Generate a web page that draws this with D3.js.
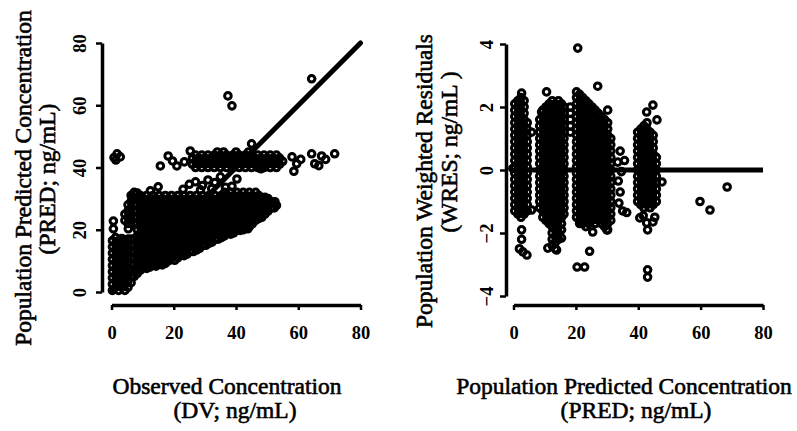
<!DOCTYPE html>
<html>
<head>
<meta charset="utf-8">
<script src="https://cdn.jsdelivr.net/npm/d3@7"></script>
<style>
  body { margin: 0; background: #fff; }
  svg { display: block; }
  text { font-family: "Liberation Serif", "Times New Roman", serif; fill: #000; }
</style>
</head>
<body>
<script>
// ---- left panel: observed (DV) vs population predicted (PRED) ----
const predTicks = [0, 20, 40, 60, 80];
const dvTicks = [0, 20, 40, 60, 80];

// dense cloud, one column per DV value: [DV, [PRED, ...]]
const predBlob = [
  [0.3, [0.5, 2.5, 4.5, 6.5, 8.5, 10.5, 12.5, 14.5, 16.5]],
  [1.3, [1.5, 3.5, 5.5, 7.5, 9.5, 11.5, 13.5, 15.5, 17.5]],
  [2.3, [0.5, 2.5, 4.5, 6.5, 8.5, 10.5, 12.5, 14.5, 16.5]],
  [3.3, [1.5, 3.5, 5.5, 7.5, 9.5, 11.5, 13.5, 15.5, 17.2]],
  [4.3, [0.5, 2.5, 4.5, 6.5, 8.5, 10.5, 12.5, 14.5, 16.5, 23, 25]],
  [5.3, [1.5, 3.5, 5.5, 7.5, 9.5, 11.5, 13.5, 15.5, 17, 22, 24, 26, 28]],
  [6.3, [3, 5, 7, 9, 11, 13, 15, 17, 23, 25, 27, 29, 31]],
  [7.3, [5, 7, 9, 11, 13, 15, 17, 22, 24, 26, 28, 30, 32]],
  [8.3, [6, 8, 10, 12, 14, 16, 18, 20, 22, 24, 26, 28, 30, 31.8]],
  [9.3, [7, 9, 11, 13, 15, 17, 19, 21, 23, 25, 27, 29, 31]],
  [10.3, [8, 10, 12, 14, 16, 18, 20, 22, 24, 26, 28, 30]],
  [11.3, [7.6, 9, 11, 13, 15, 17, 19, 21, 23, 25, 27, 29, 31]],
  [12.3, [8, 10, 12, 14, 16, 18, 20, 22, 24, 26, 28, 30]],
  [13.3, [9, 11, 13, 15, 17, 19, 21, 23, 25, 27, 29, 31]],
  [14.3, [8.3, 10, 12, 14, 16, 18, 20, 22, 24, 26, 28, 30]],
  [15.3, [9, 11, 13, 15, 17, 19, 21, 23, 25, 27, 29, 31]],
  [16.3, [8.7, 10, 12, 14, 16, 18, 20, 22, 24, 26, 28, 30]],
  [17.3, [9.2, 11, 13, 15, 17, 19, 21, 23, 25, 27, 29, 31]],
  [18.3, [10, 12, 14, 16, 18, 20, 22, 24, 26, 28, 30]],
  [19.3, [11, 13, 15, 17, 19, 21, 23, 25, 27, 29, 31]],
  [20.3, [10.2, 12, 14, 16, 18, 20, 22, 24, 26, 28, 30]],
  [21.3, [11, 13, 15, 17, 19, 21, 23, 25, 27, 29, 31]],
  [22.3, [12, 14, 16, 18, 20, 22, 24, 26, 28, 30]],
  [23.3, [11.7, 13, 15, 17, 19, 21, 23, 25, 27, 29, 31]],
  [24.3, [12.2, 14, 16, 18, 20, 22, 24, 26, 28, 30]],
  [25.3, [13, 15, 17, 19, 21, 23, 25, 27, 29, 31]],
  [26.3, [13, 14.6, 16, 18, 20, 22, 24, 26, 28, 30]],
  [27.3, [13.5, 15, 17, 19, 21, 23, 25, 27, 29, 31]],
  [28.3, [14, 16, 18, 20, 22, 24, 26, 28, 30]],
  [29.3, [15, 17, 19, 21, 23, 25, 27, 29, 31]],
  [30.3, [15, 16.4, 18, 20, 22, 24, 26, 28, 30]],
  [31.3, [15.6, 17, 19, 21, 23, 25, 27, 29, 31]],
  [32.3, [16, 18, 20, 22, 24, 26, 28, 30]],
  [33.3, [17, 19, 21, 23, 25, 27, 29, 31]],
  [34.3, [17, 18.4, 20, 22, 24, 26, 28, 30]],
  [35.3, [17.5, 19, 21, 23, 25, 27, 29, 31]],
  [36.3, [18, 20, 22, 24, 26, 28, 30, 32]],
  [37.3, [19, 21, 23, 25, 27, 29, 31]],
  [38.3, [18.6, 20, 22, 24, 26, 28, 30, 32]],
  [39.3, [19, 21, 23, 25, 27, 29, 31]],
  [40.3, [20, 22, 24, 26, 28, 30, 32]],
  [41.3, [19.8, 21, 23, 25, 27, 29, 31]],
  [42.3, [20, 22, 24, 26, 28, 30, 32]],
  [43.3, [21, 23, 25, 27, 29, 31]],
  [44.3, [21, 22.4, 24, 26, 28, 30, 32]],
  [45.3, [22, 23.4, 25, 27, 29, 31]],
  [46.3, [23, 24.4, 26, 28, 30, 32]],
  [47.3, [23.6, 25, 27, 29, 31]],
  [48.3, [24, 26, 28, 30]],
  [49.3, [25, 27, 29, 30.4]],
  [50.3, [26, 28, 30]],
  [51.3, [27, 29]],
  [52.3, [27, 28.8]],
  [53.0, [27.8]]
];

// the band of points near PRED = 42
const predBand = [
  [26.0, [41, 43]], [27.0, [40, 42, 44]], [28.0, [41, 43]], [29.0, [40, 42, 44]],
  [30.0, [41, 43]], [31.0, [40, 42, 44]], [32.0, [41, 43]], [33.0, [40, 42, 44]],
  [34.0, [41, 43, 45]], [35.0, [40, 42, 44]], [36.0, [41, 43, 45]], [37.0, [40, 42, 44]],
  [38.0, [41, 43]], [39.0, [40, 42, 44]], [40.0, [41, 43, 45]], [41.0, [40, 42, 44]],
  [42.0, [41, 43]], [43.0, [40, 42, 44]], [44.0, [41, 43, 45]], [45.0, [40, 42, 44]],
  [46.0, [41, 43]], [47.0, [40, 42, 44]], [48.0, [39.6, 41, 43]], [49.0, [40, 42, 44]],
  [50.0, [41, 43]], [51.0, [40, 42, 44]], [52.0, [41, 43]], [53.0, [40, 42, 44]],
  [54.0, [41, 43]], [55.0, [42]]
];

// single points [DV, PRED]
const predScatter = [
  [0.8, 43.2], [1.8, 44.4], [2.8, 43.4], [1.4, 42.4], [0.6, 22.8], [0.6, 20.3],
  [5.4, 20.3], [6.7, 30.2], [12.5, 32.5], [15.0, 33.8], [15.7, 40.5], [18.2, 43.7],
  [19.6, 42.1], [21.0, 40.5], [23.4, 41.8], [25.3, 45.3], [23.0, 33.0], [25.0, 34.6],
  [27.0, 35.4], [28.6, 32.8], [29.2, 34.2], [31.0, 36.0], [32.2, 33.2], [33.2, 35.2],
  [35.0, 37.0], [36.6, 33.6], [38.7, 34.0], [40.3, 36.3], [37.4, 63.0], [38.7, 59.8],
  [45.0, 47.6], [43.8, 20.3], [52.5, 29.0], [28.5, 17.7], [58.0, 43.4], [59.5, 41.2],
  [58.6, 38.8], [60.8, 42.6], [64.3, 44.4], [65.3, 41.2], [66.6, 40.6], [67.5, 43.7],
  [68.8, 42.6], [71.7, 44.4], [64.3, 68.5]
];

// ---- right panel: PRED vs weighted residuals (WRES) ----
const wresTicks = [-4, -2, 0, 2, 4];
const pred2Ticks = [0, 20, 40, 60, 80];

// dense stripes, one column per PRED value: [PRED, [WRES, ...]]
const wresCols = [
  [0.4, [2.1, 1.9, 1.7, 1.5, 1.3, 1.1, 0.9, 0.7, 0.5, 0.3, 0.1, -0.1, -0.3, -0.5, -0.7, -0.9, -1.1, -1.3]],
  [1.4, [2.2, 2.0, 1.8, 1.6, 1.4, 1.2, 1.0, 0.8, 0.6, 0.4, 0.2, 0.0, -0.2, -0.4, -0.6, -0.8, -1.0, -1.2, -1.4]],
  [2.4, [2.3, 2.1, 1.9, 1.7, 1.5, 1.3, 1.1, 0.9, 0.7, 0.5, 0.3, 0.1, -0.1, -0.3, -0.5, -0.7, -0.9, -1.1, -1.3, -1.5]],
  [3.4, [2.2, 2.0, 1.8, 1.6, 1.4, 1.2, 1.0, 0.8, 0.6, 0.4, 0.2, 0.0, -0.2, -0.4, -0.6, -0.8, -1.0, -1.2, -1.4]],
  [4.4, [1.5, 1.3, 1.1, 0.9, 0.7, 0.5, 0.3, 0.1, -0.1, -0.3, -0.5, -0.7, -0.9, -1.1, -1.3]],
  [8.4, [1.6, 1.4, 1.2, 1.0, 0.8, 0.6, 0.4, 0.2, 0.0, -0.2, -0.4, -0.6, -0.8, -1.0, -1.2]],
  [9.4, [1.9, 1.7, 1.5, 1.3, 1.1, 0.9, 0.7, 0.5, 0.3, 0.1, -0.1, -0.3, -0.5, -0.7, -0.9, -1.1, -1.3, -1.5]],
  [10.4, [2.0, 1.8, 1.6, 1.4, 1.2, 1.0, 0.8, 0.6, 0.4, 0.2, 0.0, -0.2, -0.4, -0.6, -0.8, -1.0, -1.2, -1.4, -1.6]],
  [11.4, [2.1, 1.9, 1.7, 1.5, 1.3, 1.1, 0.9, 0.7, 0.5, 0.3, 0.1, -0.1, -0.3, -0.5, -0.7, -0.9, -1.1, -1.3, -1.5, -1.7]],
  [12.4, [2.2, 2.0, 1.8, 1.6, 1.4, 1.2, 1.0, 0.8, 0.6, 0.4, 0.2, 0.0, -0.2, -0.4, -0.6, -0.8, -1.0, -1.2, -1.4, -1.6, -1.8, -2.0, -2.2, -2.4]],
  [13.4, [2.1, 1.9, 1.7, 1.5, 1.3, 1.1, 0.9, 0.7, 0.5, 0.3, 0.1, -0.1, -0.3, -0.5, -0.7, -0.9, -1.1, -1.3, -1.5, -1.7, -1.9, -2.1, -2.3, -2.5]],
  [14.4, [2.2, 2.0, 1.8, 1.6, 1.4, 1.2, 1.0, 0.8, 0.6, 0.4, 0.2, 0.0, -0.2, -0.4, -0.6, -0.8, -1.0, -1.2, -1.4, -1.6, -1.8, -2.0, -2.2]],
  [15.4, [2.1, 1.9, 1.7, 1.5, 1.3, 1.1, 0.9, 0.7, 0.5, 0.3, 0.1, -0.1, -0.3, -0.5, -0.7, -0.9, -1.1, -1.3, -1.5, -1.7, -1.9]],
  [16.2, [2.0, 1.8, 1.6, 1.4, 1.2, 1.0, 0.8, 0.6, 0.4, 0.2, 0.0, -0.2, -0.4, -0.6, -0.8, -1.0, -1.2, -1.4]],
  [18.2, [2.0, 1.8, 1.6, 1.4, 1.2]],
  [20.2, [2.3, 2.1, 1.9, 1.7, 1.5, 1.3, 1.1, 0.9, 0.7, 0.5, 0.3, 0.1, -0.1, -0.3, -0.5, -0.7, -0.9, -1.1, -1.3, -1.5]],
  [21.2, [2.4, 2.2, 2.0, 1.8, 1.6, 1.4, 1.2, 1.0, 0.8, 0.6, 0.4, 0.2, 0.0, -0.2, -0.4, -0.6, -0.8, -1.0, -1.2, -1.4, -1.6]],
  [22.2, [2.3, 2.1, 1.9, 1.7, 1.5, 1.3, 1.1, 0.9, 0.7, 0.5, 0.3, 0.1, -0.1, -0.3, -0.5, -0.7, -0.9, -1.1, -1.3, -1.5, -1.7]],
  [23.2, [2.2, 2.0, 1.8, 1.6, 1.4, 1.2, 1.0, 0.8, 0.6, 0.4, 0.2, 0.0, -0.2, -0.4, -0.6, -0.8, -1.0, -1.2, -1.4, -1.6, -1.8]],
  [24.2, [2.1, 1.9, 1.7, 1.5, 1.3, 1.1, 0.9, 0.7, 0.5, 0.3, 0.1, -0.1, -0.3, -0.5, -0.7, -0.9, -1.1, -1.3, -1.5, -1.7]],
  [25.2, [2.0, 1.8, 1.6, 1.4, 1.2, 1.0, 0.8, 0.6, 0.4, 0.2, 0.0, -0.2, -0.4, -0.6, -0.8, -1.0, -1.2, -1.4, -1.6]],
  [26.2, [1.9, 1.7, 1.5, 1.3, 1.1, 0.9, 0.7, 0.5, 0.3, 0.1, -0.1, -0.3, -0.5, -0.7, -0.9, -1.1, -1.3, -1.5, -1.7]],
  [27.2, [1.8, 1.6, 1.4, 1.2, 1.0, 0.8, 0.6, 0.4, 0.2, 0.0, -0.2, -0.4, -0.6, -0.8, -1.0, -1.2, -1.4, -1.6]],
  [28.2, [1.7, 1.5, 1.3, 1.1, 0.9, 0.7, 0.5, 0.3, 0.1, -0.1, -0.3, -0.5, -0.7, -0.9, -1.1, -1.3, -1.5, -1.7]],
  [29.2, [1.6, 1.4, 1.2, 1.0, 0.8, 0.6, 0.4, 0.2, 0.0, -0.2, -0.4, -0.6, -0.8, -1.0, -1.2, -1.4, -1.6, -1.8]],
  [30.2, [1.5, 1.3, 1.1, 0.9, 0.7, 0.5, 0.3, 0.1, -0.1, -0.3, -0.5, -0.7, -0.9, -1.1, -1.3, -1.5, -1.7, -1.9]],
  [31.2, [1.0, 0.8, 0.6, 0.4, 0.2, 0.0, -0.2, -0.4, -0.6, -0.8, -1.0, -1.2, -1.4, -1.6]],
  [39.8, [1.2, 1.0, 0.8, 0.6, 0.4, 0.2, 0.0, -0.2, -0.4, -0.6, -0.8, -1.0]],
  [40.8, [1.3, 1.1, 0.9, 0.7, 0.5, 0.3, 0.1, -0.1, -0.3, -0.5, -0.7, -0.9, -1.1]],
  [41.8, [1.4, 1.2, 1.0, 0.8, 0.6, 0.4, 0.2, 0.0, -0.2, -0.4, -0.6, -0.8, -1.0, -1.2]],
  [42.8, [1.5, 1.3, 1.1, 0.9, 0.7, 0.5, 0.3, 0.1, -0.1, -0.3, -0.5, -0.7, -0.9, -1.1]],
  [43.8, [1.2, 1.0, 0.8, 0.6, 0.4, 0.2, 0.0, -0.2, -0.4, -0.6, -0.8, -1.0, -1.2]],
  [44.8, [1.1, 0.9, 0.7, 0.5, 0.3, 0.1, -0.1, -0.3, -0.5, -0.7, -0.9, -1.1]],
  [45.8, [0.4, 0.2, 0.0, -0.2, -0.4, -0.6, -0.8, -1.0]]
];

// single points [PRED, WRES]
const wresScatter = [
  [-0.2, 0.05], [2.6, 2.44], [5.8, 1.2], [5.8, -1.27], [2.6, -1.9], [2.6, -2.2],
  [1.9, -2.5], [4.3, -2.7], [3.0, -2.6], [9.0, 1.84], [10.6, 2.48], [10.6, -1.6],
  [11.6, -1.65], [11.0, -2.48], [13.8, -2.54], [15.4, -2.16], [20.6, 3.87], [20.2, 2.48],
  [27.0, 2.66], [30.2, 1.9], [21.2, -1.7], [25.4, -1.97], [24.4, -2.58], [20.4, -3.08],
  [22.8, -3.08], [29.9, -1.9], [34.2, 0.6], [33.4, 0.25], [35.6, 0.3], [34.6, -0.05],
  [33.6, -0.35], [34.2, -0.7], [33.8, -1.05], [35.0, -1.3], [36.3, -1.35], [42.7, 1.84],
  [44.7, 2.06], [46.0, 1.59], [40.5, -1.52], [41.6, -1.45], [42.7, -1.68], [44.7, -1.65],
  [43.0, -1.9], [45.3, -1.5], [43.0, -3.17], [43.0, -3.4], [47.6, -0.38], [59.8, -1.0],
  [63.0, -1.27], [68.5, -0.54]
];

const svg = d3.select('body').append('svg')
  .attr('width', 797).attr('height', 431);

const xL = d3.scaleLinear().domain([0, 80]).range([111.5, 360.5]);
const yL = d3.scaleLinear().domain([0, 80]).range([292, 43]);
const xR = d3.scaleLinear().domain([0, 80]).range([513.5, 763]);
const yR = d3.scaleLinear().domain([-4, 4]).range([296, 44]);

// flatten the column lists into points
function unroll(cols) {
  let out = [];
  cols.forEach(c => c[1].forEach(v => out.push([c[0], v])));
  return out;
}
const leftPts = unroll(predBlob).concat(unroll(predBand), predScatter);
const rightPts = unroll(wresCols).concat(wresScatter);

// axes (Prism style, detached)
function styleAxis(g) {
  g.attr('font-family', null).attr('font-size', null);
  g.select('.domain').attr('stroke-width', 3.5);
  g.selectAll('.tick line').attr('stroke-width', 2.5);
  g.selectAll('.tick text').style('font-size', '18.5px').style('font-weight', 'bold');
}

const yAxisL = svg.append('g').attr('transform', 'translate(102,0)')
  .call(d3.axisLeft(yL).tickValues(predTicks).tickSize(6).tickSizeOuter(0));
styleAxis(yAxisL);
yAxisL.selectAll('.tick text').attr('x', 0).attr('dy', 0)
  .attr('text-anchor', 'middle').attr('transform', 'translate(-16,0) rotate(-90)');

const xAxisL = svg.append('g').attr('transform', 'translate(0,305)')
  .call(d3.axisBottom(xL).tickValues(dvTicks).tickSize(5).tickSizeOuter(0));
styleAxis(xAxisL);
xAxisL.selectAll('.tick text').attr('y', 34).attr('dy', 0);

const yAxisR = svg.append('g').attr('transform', 'translate(506,0)')
  .call(d3.axisLeft(yR).tickValues(wresTicks).tickSize(6).tickSizeOuter(0));
styleAxis(yAxisR);
yAxisR.selectAll('.tick text').attr('x', 0).attr('dy', 0)
  .attr('text-anchor', 'middle').attr('transform', 'translate(-13,0) rotate(-90)');

const xAxisR = svg.append('g').attr('transform', 'translate(0,305)')
  .call(d3.axisBottom(xR).tickValues(pred2Ticks).tickSize(5).tickSizeOuter(0));
styleAxis(xAxisR);
xAxisR.selectAll('.tick text').attr('y', 34).attr('dy', 0);

// reference lines
svg.append('line')
  .attr('x1', xL(0)).attr('y1', yL(0)).attr('x2', xL(80)).attr('y2', yL(80))
  .attr('stroke', '#000').attr('stroke-width', 5).attr('stroke-linecap', 'round');
svg.append('line')
  .attr('x1', xR(0)).attr('y1', yR(0)).attr('x2', xR(80)).attr('y2', yR(0))
  .attr('stroke', '#000').attr('stroke-width', 5);

// points
svg.append('g').selectAll('circle').data(leftPts).enter().append('circle')
  .attr('cx', d => xL(d[0])).attr('cy', d => yL(d[1])).attr('r', 3.3)
  .attr('fill', 'none').attr('stroke', '#000').attr('stroke-width', 3);
svg.append('g').selectAll('circle').data(rightPts).enter().append('circle')
  .attr('cx', d => xR(d[0])).attr('cy', d => yR(d[1])).attr('r', 3.3)
  .attr('fill', 'none').attr('stroke', '#000').attr('stroke-width', 3);

// titles
function title(x, y, rot, str) {
  svg.append('text')
    .attr('transform', 'translate(' + x + ',' + y + ')' + (rot ? ' rotate(-90)' : ''))
    .attr('text-anchor', 'middle')
    .style('font-size', '23.5px')
    .attr('stroke', '#000').attr('stroke-width', 0.6)
    .text(str);
}
title(31, 178, true, 'Population Predicted Concentration');
title(55, 179, true, '(PRED; ng/mL)');
title(227, 394, false, 'Observed Concentration');
title(235, 418, false, '(DV; ng/mL)');
title(432, 181, true, 'Population Weighted Residuals');
title(457, 152, true, '(WRES; ng/mL )');
title(624, 394, false, 'Population Predicted Concentration');
title(636, 418, false, '(PRED; ng/mL)');
</script>
</body>
</html>
